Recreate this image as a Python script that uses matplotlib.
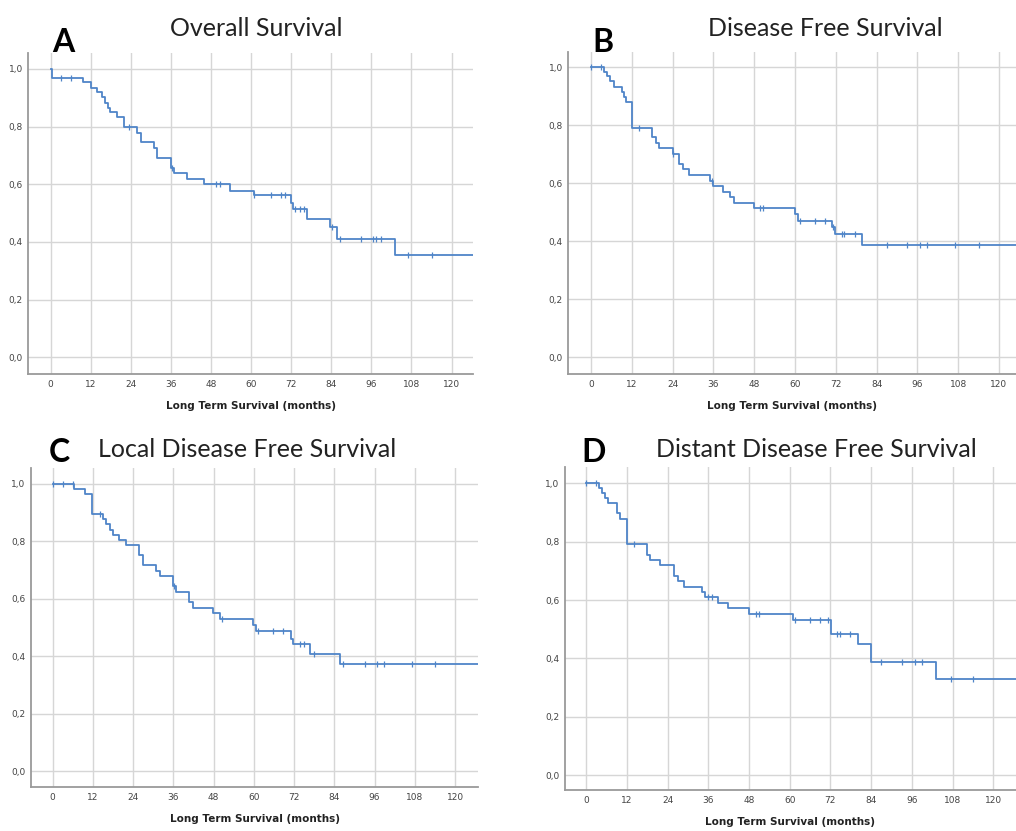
import matplotlib.pyplot as plt
import numpy as np

# Kaplan-Meier curves (months, survival)
os_t = [0, 0.3, 9.8, 12.0, 13.8, 15.3, 16.3, 17.2, 17.9, 19.9, 21.9, 25.9, 26.9, 30.9, 31.7,
        35.9, 36.9, 40.9, 45.9, 53.8, 60.8, 71.8, 72.6, 76.8, 83.7, 85.7, 103.0, 128]
os_s = [1.0, 0.97, 0.953, 0.935, 0.919, 0.902, 0.881, 0.864, 0.852, 0.832, 0.798, 0.777, 0.745,
        0.725, 0.690, 0.655, 0.638, 0.617, 0.600, 0.578, 0.562, 0.534, 0.513, 0.480, 0.450,
        0.410, 0.353, 0.353]
os_c = [3, 6, 23.5, 36.3, 49.6, 50.6, 61, 66, 68.8, 70, 73, 74.6, 75.8, 84.2, 86.5, 93, 96.5,
        97.5, 99, 107, 114]

dfs_t = [0, 3.8, 4.6, 5.6, 6.8, 9.0, 9.8, 10.2, 12.0, 17.9, 19.1, 20.1, 24.0, 26.0, 27.0,
         28.9, 35.0, 35.8, 38.7, 40.9, 41.9, 47.9, 60.0, 60.8, 71.0, 71.8, 79.8, 128]
dfs_s = [1.0, 0.983, 0.968, 0.952, 0.933, 0.914, 0.897, 0.879, 0.791, 0.759, 0.738, 0.721,
         0.701, 0.667, 0.649, 0.628, 0.609, 0.590, 0.571, 0.552, 0.532, 0.514, 0.492, 0.471,
         0.448, 0.425, 0.387, 0.387]
dfs_c = [0, 3, 14, 24.2, 35.5, 49.7, 50.7, 61.5, 65.9, 68.8, 71.3, 73.7, 74.4, 77.6, 87, 92.8,
         96.8, 98.7, 107, 114]

ldfs_t = [0, 6.5, 9.7, 11.9, 15.0, 16.0, 17.0, 18.0, 19.9, 21.9, 25.9, 26.9, 30.9, 31.9, 35.9,
          36.8, 40.8, 41.8, 47.8, 49.8, 59.9, 60.7, 71.0, 71.8, 76.8, 85.7, 128]
ldfs_s = [1.0, 0.982, 0.964, 0.896, 0.877, 0.860, 0.840, 0.823, 0.806, 0.787, 0.751, 0.716,
          0.696, 0.679, 0.644, 0.623, 0.588, 0.569, 0.549, 0.528, 0.509, 0.489, 0.461, 0.441,
          0.407, 0.372, 0.372]
ldfs_c = [0, 3, 6, 14.2, 36.3, 50.4, 61.2, 65.8, 68.8, 73.8, 75, 77.8, 86.7, 93.1, 96.6, 98.8,
          107.2, 114]

ddfs_t = [0, 3.8, 4.6, 5.6, 6.6, 9.0, 10.0, 12.2, 18.1, 18.9, 21.8, 26.0, 27.0, 29.0, 34.1,
          35.1, 39.0, 41.9, 48.1, 61.1, 72.1, 80.1, 83.9, 103.1, 128]
ddfs_s = [1.0, 0.983, 0.966, 0.949, 0.931, 0.897, 0.878, 0.792, 0.754, 0.737, 0.719, 0.683,
          0.665, 0.646, 0.629, 0.611, 0.591, 0.573, 0.552, 0.531, 0.483, 0.451, 0.387, 0.330,
          0.330]
ddfs_c = [0, 3, 14.1, 36, 37, 50, 51, 61.6, 66, 69, 71.4, 73.9, 74.9, 77.8, 87, 93, 97, 99,
          107.5, 114]

titles = ['Overall Survival', 'Disease Free Survival', 'Local Disease Free Survival',
          'Distant Disease Free Survival']
letters = ['A', 'B', 'C', 'D']
x_ticks = [0, 12, 24, 36, 48, 60, 72, 84, 96, 108, 120]
y_ticks = [0.0, 0.2, 0.4, 0.6, 0.8, 1.0]
y_labels = ['0,0', '0,2', '0,4', '0,6', '0,8', '1,0']

W, H = 1016, 831
fig = plt.figure(figsize=(W / 100, H / 100), dpi=100)

# panel boxes in pixels: left, right, top, bottom, xlim, ylim
panels = [
    (28.3, 473.3, 53, 374, (-6.7, 126.5), (-0.058, 1.055)),
    (568.3, 1016, 52, 374, (-6.7, 125.0), (-0.058, 1.052)),
    (30.7, 478.3, 468, 787, (-6.5, 126.9), (-0.055, 1.055)),
    (564.7, 1016, 467, 790, (-6.3, 126.7), (-0.051, 1.056)),
]
curves = [(os_t, os_s, os_c), (dfs_t, dfs_s, dfs_c), (ldfs_t, ldfs_s, ldfs_c),
          (ddfs_t, ddfs_s, ddfs_c)]
title_pos = [(256, 28), (825, 28), (247, 449), (816, 449)]
letter_pos = [(63, 42), (603, 43), (59, 452), (594, 452)]

blue = '#4f85c8'
for i in range(4):
    l, r, t, b, xl, yl = panels[i]
    ax = fig.add_axes([l / W, 1 - b / H, (r - l) / W, (b - t) / H])
    tt, ss, cc = curves[i]
    ax.step(tt, ss, where='post', color=blue, lw=1.3, zorder=3)
    # censored observations
    idx = np.searchsorted(tt, cc, side='right') - 1
    cy = np.array(ss)[idx]
    ax.plot(cc, cy, linestyle='none', marker='|', markersize=5, color=blue, mew=0.9, zorder=3)

    ax.set_xlim(xl)
    ax.set_ylim(yl)
    ax.set_xticks(x_ticks)
    ax.set_yticks(y_ticks)
    ax.set_yticklabels(y_labels)
    ax.tick_params(length=0, labelsize=6.5, labelcolor='#444444', pad=4)
    ax.grid(True, color='#d6d6d6', lw=1.0)
    ax.set_axisbelow(True)
    for s in ['top', 'right']:
        ax.spines[s].set_visible(False)
    for s in ['left', 'bottom']:
        ax.spines[s].set_color('#9a9a9a')
        ax.spines[s].set_linewidth(1.3)
    ax.set_xlabel('Long Term Survival (months)', fontsize=7.5, fontweight='bold',
                  color='#222222', labelpad=9)

    fig.text(title_pos[i][0] / W, 1 - title_pos[i][1] / H, titles[i], family='Lato',
             fontsize=18, ha='center', va='center', color='#222222')
    fig.text(letter_pos[i][0] / W, 1 - letter_pos[i][1] / H, letters[i], family='Lato',
             fontsize=23, fontweight='bold', ha='center', va='center', color='black')

fig.savefig('out.png', dpi=100)
